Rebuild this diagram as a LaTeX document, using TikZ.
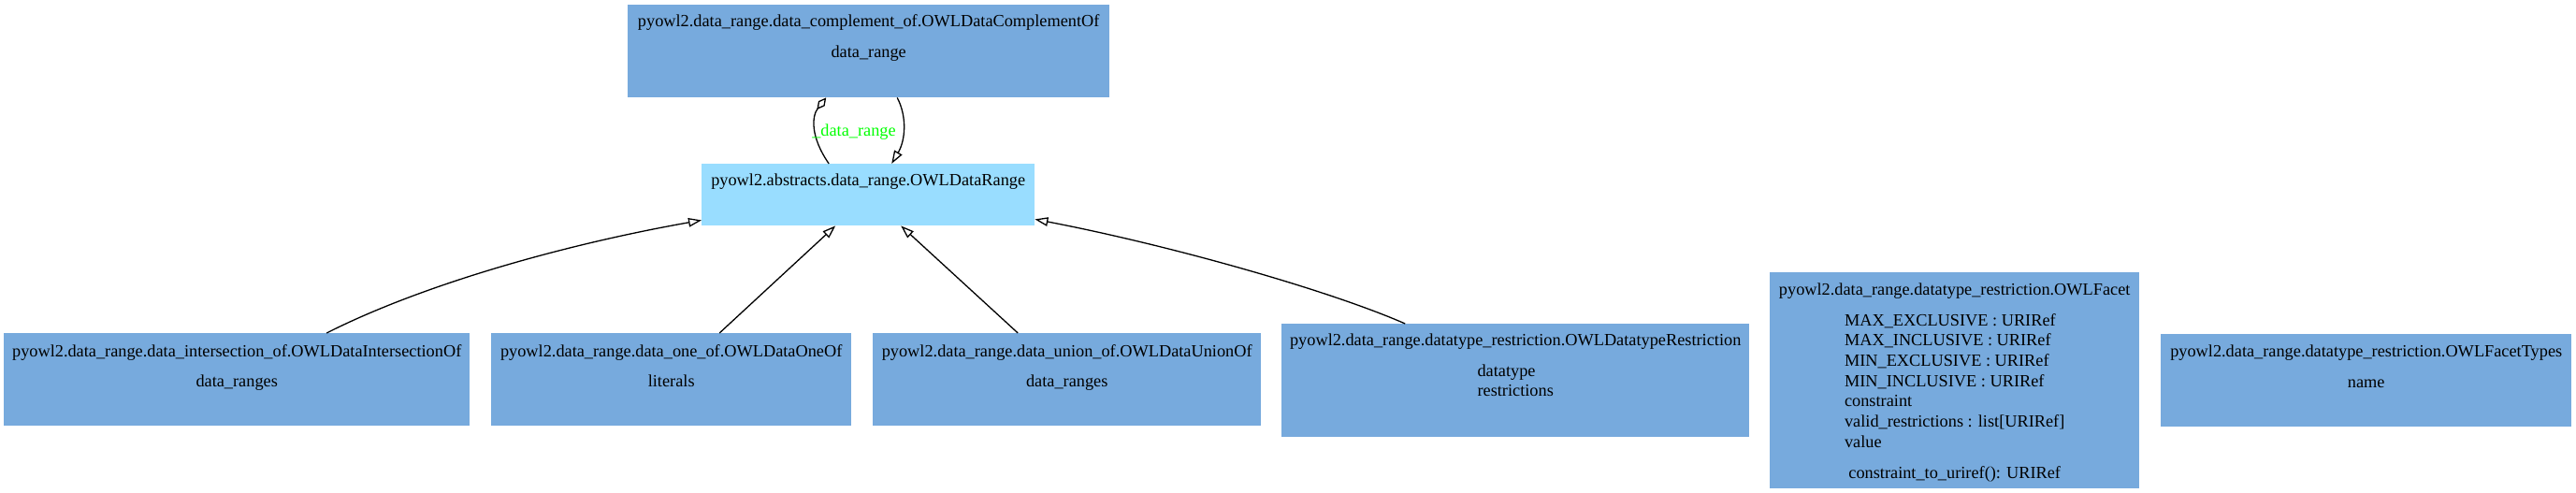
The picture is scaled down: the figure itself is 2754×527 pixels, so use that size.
\documentclass[tikz,border=0pt]{standalone}
\usepackage{fontspec}
\setmainfont{Liberation Serif}
\usetikzlibrary{arrows.meta,calc}
\definecolor{boxblue}{HTML}{77AADD}
\definecolor{boxcyan}{HTML}{99DDFF}
\definecolor{lblgreen}{HTML}{00FF00}
\tikzset{
  cls/.style={rectangle, fill=boxblue, draw=none, inner sep=0pt, anchor=north west},
  ttl/.style={anchor=base, inner sep=0pt},
  attr/.style={anchor=base, inner sep=0pt},
  inh/.style={draw, line width=1.3pt, -{Triangle[open, length=14pt, width=9.5pt]}},
  agg/.style={draw, line width=1.3pt, -{Diamond[open, length=16pt, width=8.5pt]}},
  lbl/.style={anchor=base, text=lblgreen, inner sep=0pt}
}
\newcommand{\attrs}[1]{\begin{tabular}[t]{@{}l@{}}#1\end{tabular}}
\begin{document}
\begin{tikzpicture}[x=1pt, y=-1pt, font=\fontsize{18.3}{21.7}\selectfont]
\useasboundingbox[fill=white] (0,0) rectangle (2754,527);

% boxes
\node[cls, minimum width=515pt, minimum height=99pt] (comp) at (671,5) {};
\node[cls, fill=boxcyan, minimum width=356pt, minimum height=66pt] (dr) at (750,175) {};
\node[cls, minimum width=498pt, minimum height=99pt] (inter) at (4,356) {};
\node[cls, minimum width=385pt, minimum height=99pt] (one) at (525,356) {};
\node[cls, minimum width=415pt, minimum height=99pt] (union) at (933,356) {};
\node[cls, minimum width=500pt, minimum height=121pt] (restr) at (1370,346) {};
\node[cls, minimum width=395pt, minimum height=231pt] (facet) at (1892,291) {};
\node[cls, minimum width=439pt, minimum height=99pt] (ftypes) at (2310,357) {};

% texts
\node[ttl] (compT) at ($(comp.north)+(0,24)$) {pyowl2.data\_range.data\_complement\_of.OWLDataComplementOf};
\node[attr] (compA) at ($(comp.north)+(0,57)$) {\attrs{data\_range}};

\node[ttl] (drT) at ($(dr.north)+(0,23)$) {pyowl2.abstracts.data\_range.OWLDataRange};

\node[ttl] (interT) at ($(inter.north)+(0,25)$) {pyowl2.data\_range.data\_intersection\_of.OWLDataIntersectionOf};
\node[attr] (interA) at ($(inter.north)+(0,57)$) {\attrs{data\_ranges}};

\node[ttl] (oneT) at ($(one.north)+(0,25)$) {pyowl2.data\_range.data\_one\_of.OWLDataOneOf};
\node[attr] (oneA) at ($(one.north)+(0,57)$) {\attrs{literals}};

\node[ttl] (unionT) at ($(union.north)+(0,25)$) {pyowl2.data\_range.data\_union\_of.OWLDataUnionOf};
\node[attr] (unionA) at ($(union.north)+(0,57)$) {\attrs{data\_ranges}};

\node[ttl] (restrT) at ($(restr.north)+(0,23)$) {pyowl2.data\_range.datatype\_restriction.OWLDatatypeRestriction};
\node[attr] (restrA) at ($(restr.north)+(0,56)$) {\attrs{datatype\\restrictions}};

\node[ttl] (facetT) at ($(facet.north)+(0,24)$) {pyowl2.data\_range.datatype\_restriction.OWLFacet};
\node[attr] (facetA) at ($(facet.north)+(0,57)$) {\attrs{MAX\_EXCLUSIVE : URIRef\\MAX\_INCLUSIVE : URIRef\\MIN\_EXCLUSIVE : URIRef\\MIN\_INCLUSIVE : URIRef\\constraint\\valid\_restrictions : list[URIRef]\\value}};
\node[attr] (facetM) at ($(facet.north)+(0,220.7)$) {constraint\_to\_uriref(): URIRef};

\node[ttl] (ftypesT) at ($(ftypes.north)+(0,24)$) {pyowl2.data\_range.datatype\_restriction.OWLFacetTypes};
\node[attr] (ftypesA) at ($(ftypes.north)+(0,57)$) {\attrs{name}};

% connectors
\draw[inh] ($(inter.north)+(96,0)$) .. controls (450,305) and (600,262) .. ($(dr.south west)+(0,-6)$);
\draw[inh] ($(one.north)+(51.5,0)$) -- ($(dr.south)+(-35,0)$);
\draw[inh] ($(union.north)+(-52.5,0)$) -- ($(dr.south)+(35,0)$);
\draw[inh] ($(restr.north)+(-118,0)$) .. controls (1420,310) and (1250,262) .. ($(dr.south east)+(0,-7)$);

\draw[agg] ($(dr.north)+(-42,0)$) .. controls (866,146) and (868,124) .. ($(comp.south)+(-45.5,0)$);
\draw[inh] ($(comp.south)+(30.5,0)$) .. controls (970,125) and (968,150) .. ($(dr.north)+(25,0)$);
\node[lbl] (aggL) at (913,145) {\_data\_range};
\end{tikzpicture}
\end{document}
